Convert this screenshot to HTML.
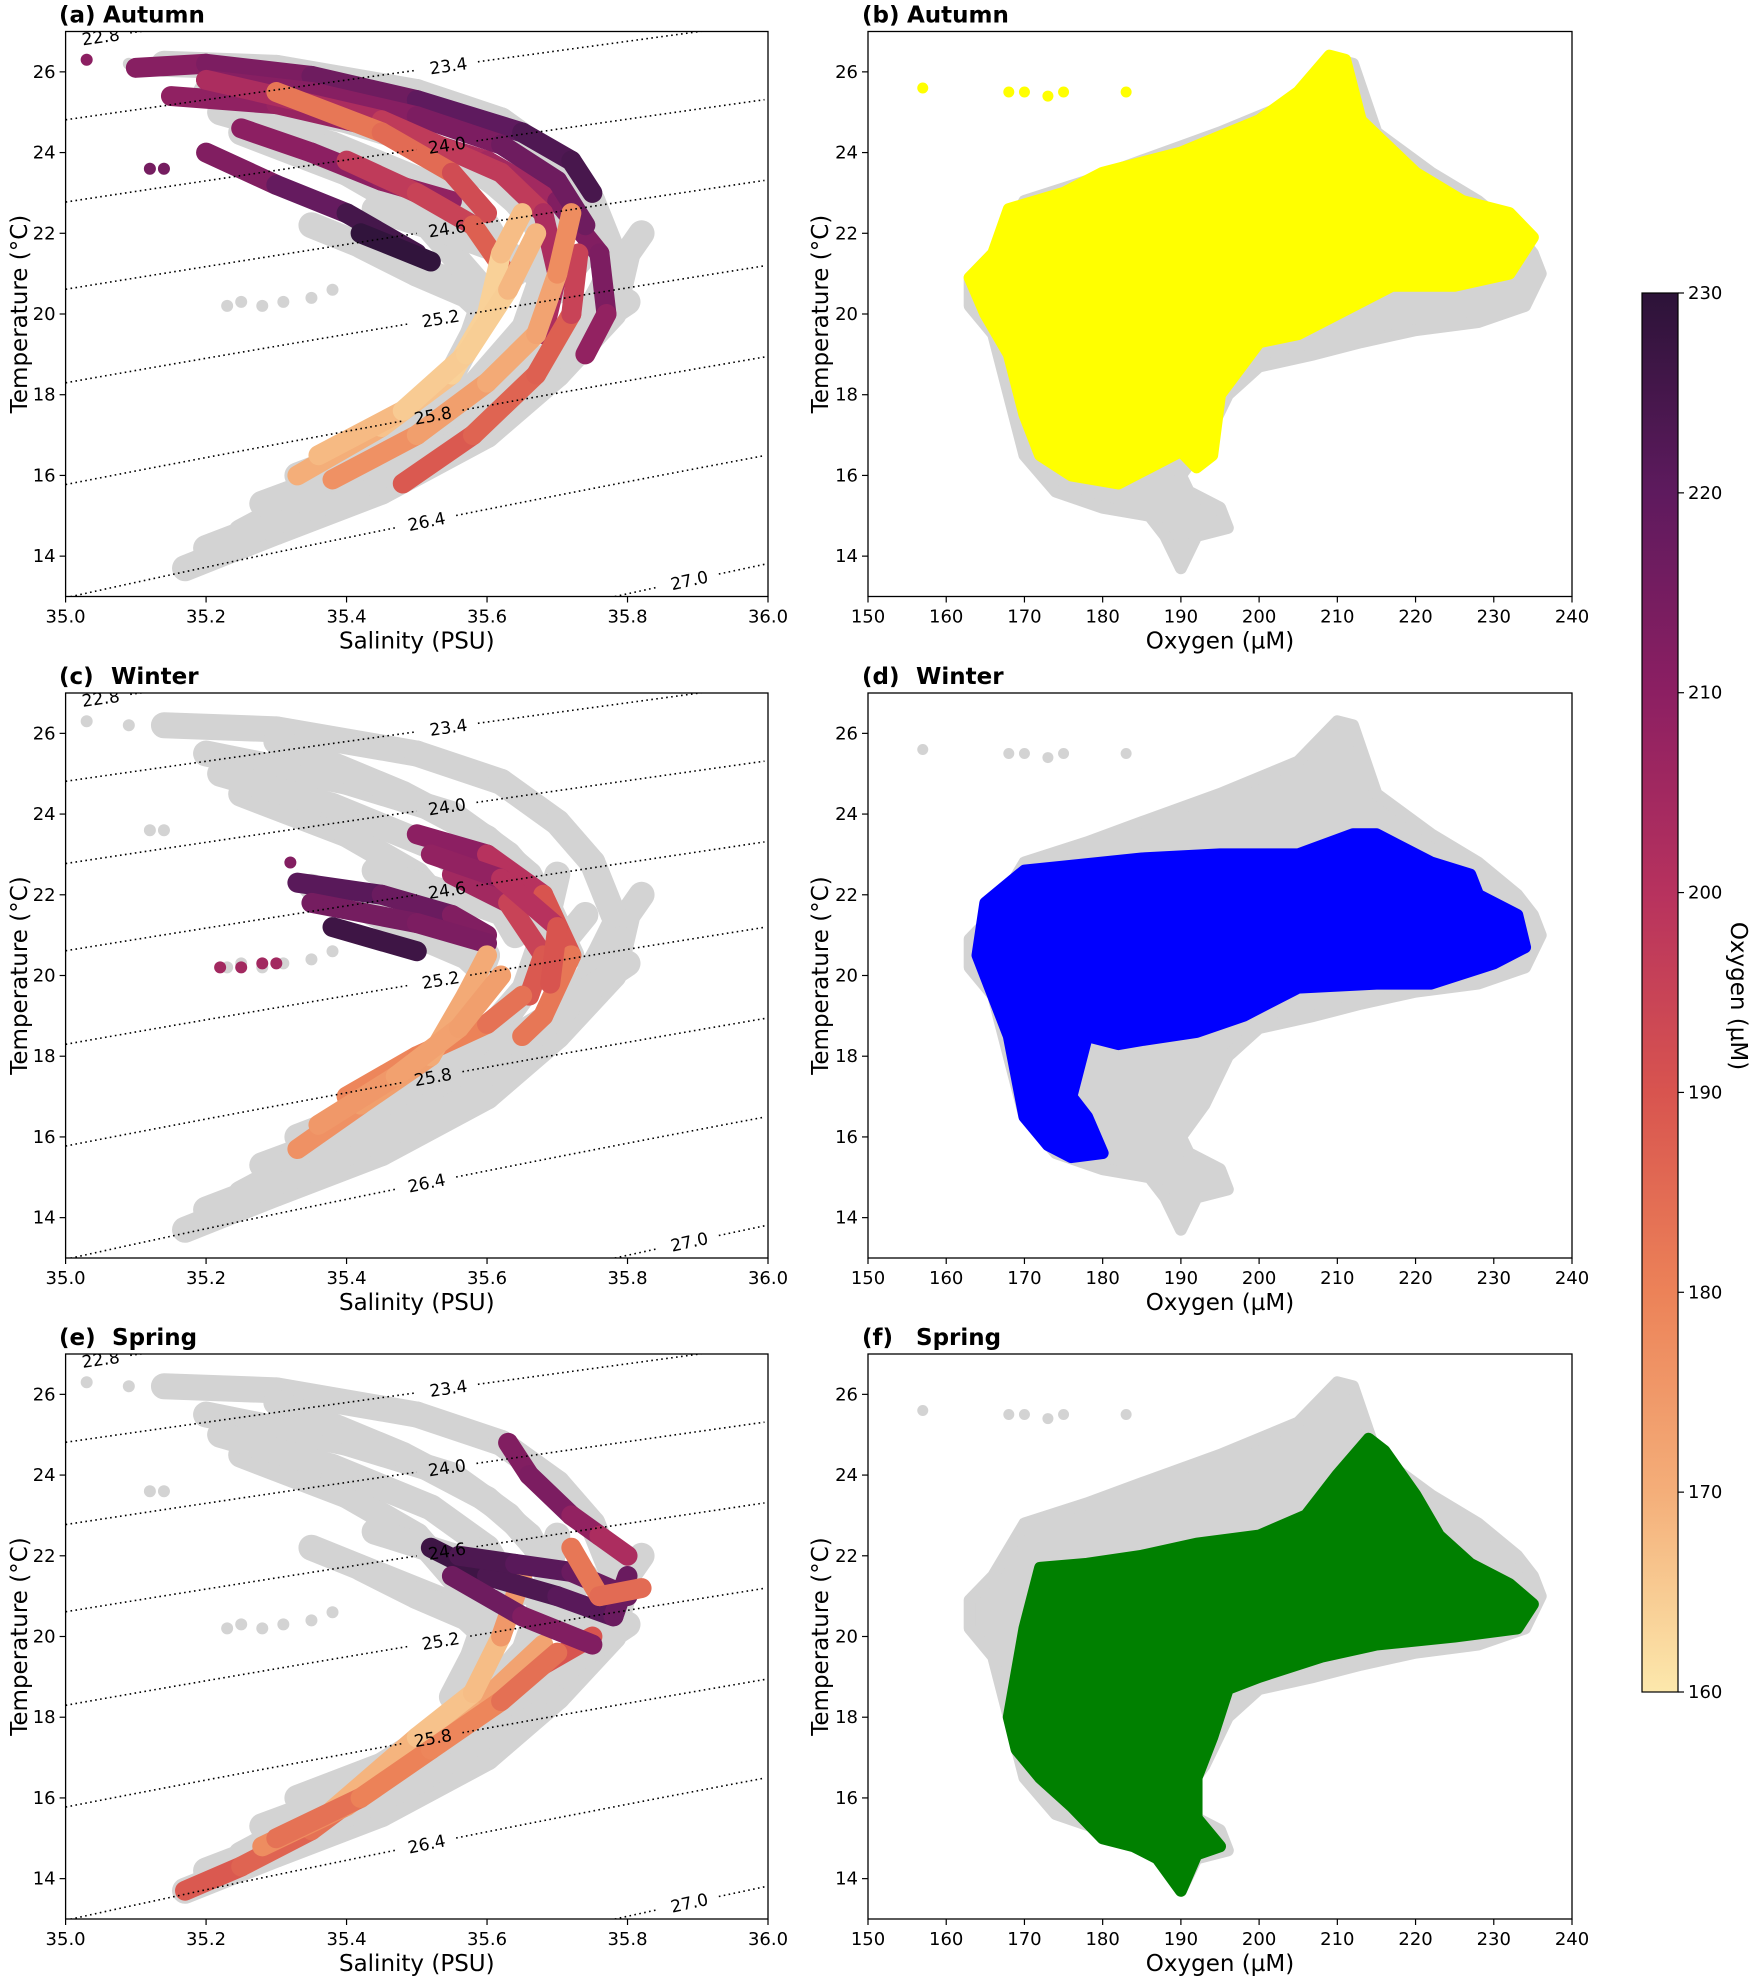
<!DOCTYPE html>
<html><head><meta charset="utf-8"><title>T-S and T-O diagrams</title>
<style>html,body{margin:0;padding:0;background:#fff}svg{display:block}text{font-family:"DejaVu Sans","Liberation Sans",sans-serif;fill:#000}</style>
</head><body>
<svg id="fig" xmlns="http://www.w3.org/2000/svg" width="1753" height="1979" viewBox="0 0 1753 1979">
<defs>
<linearGradient id="magma" x1="0" y1="1" x2="0" y2="0">
<stop offset="0" stop-color="#fce8ac"/><stop offset="0.143" stop-color="#f4ae79"/><stop offset="0.286" stop-color="#ec8258"/><stop offset="0.429" stop-color="#d8544f"/><stop offset="0.571" stop-color="#b7325e"/><stop offset="0.714" stop-color="#8c1f62"/><stop offset="0.857" stop-color="#5e1a5e"/><stop offset="1" stop-color="#2c1338"/>
</linearGradient>
</defs>
</svg>
<script>
// ---- data ----
const salTicks=[35.0,35.2,35.4,35.6,35.8,36.0];
const tempTicks=[14,16,18,20,22,24,26];
const oxyTicks=[150,160,170,180,190,200,210,220,230,240];
const cbTicks=[160,170,180,190,200,210,220,230];
const sigmaLevels=[22.8,23.4,24.0,24.6,25.2,25.8,26.4,27.0];
const sigmaLabelS=[35.05,35.545,35.543,35.543,35.534,35.523,35.514,35.888];
// grey T-S tracks (all data) [S,T]
const greyTS=[
 [[35.17,13.7],[35.3,14.6],[35.45,15.6],[35.6,17],[35.7,18.5],[35.78,20],[35.8,21.5],[35.82,22]],
 [[35.25,14.6],[35.38,15.8],[35.5,17],[35.6,18.3],[35.65,19.5],[35.68,21],[35.7,22.5]],
 [[35.2,14.2],[35.35,15.2],[35.5,16.4],[35.62,17.8],[35.72,19.3],[35.76,20.5],[35.78,21.2]],
 [[35.28,15.3],[35.42,16.2],[35.55,17.5],[35.68,18.9],[35.8,20.3]],
 [[35.33,16.0],[35.45,16.8],[35.58,18.2],[35.66,19.8],[35.74,21.5]],
 [[35.14,26.2],[35.3,26.1],[35.5,25.5],[35.62,24.8],[35.7,23.8],[35.75,22.8],[35.78,21.5]],
 [[35.2,25.5],[35.4,24.8],[35.55,24],[35.63,23],[35.68,22],[35.72,20.5]],
 [[35.25,24.5],[35.4,23.5],[35.5,22.5],[35.55,21.5],[35.6,20.5],[35.58,19.5],[35.55,18.5]],
 [[35.3,25.8],[35.48,24.5],[35.6,23.4],[35.66,22.5],[35.7,21.2]],
 [[35.22,25.0],[35.38,24.2],[35.52,23.2],[35.6,22.2],[35.64,21]],
 [[35.35,22.2],[35.45,21.5],[35.55,20.8],[35.6,20]],
 [[35.42,21.7],[35.5,21],[35.58,20.4]],
 [[35.44,22.6],[35.55,22],[35.63,21.5],[35.7,20.6]]
];
const greyDotsTS=[[35.03,26.3],[35.09,26.2],[35.12,23.6],[35.14,23.6],[35.23,20.2],[35.25,20.3],[35.28,20.2],[35.31,20.3],[35.35,20.4],[35.38,20.6]];
// coloured tracks [S,T,O]
const autumnTS=[
 [[35.1,26.1,210],[35.2,26.2,212],[35.35,25.9,215],[35.5,25.3,218],[35.65,24.5,222],[35.72,23.8,224],[35.75,23,225]],
 [[35.15,25.4,208],[35.3,25.2,210],[35.45,24.6,205],[35.6,23.8,200],[35.7,22.8,210],[35.76,21.5,215],[35.77,20,212],[35.74,19,205]],
 [[35.2,25.8,212],[35.35,25.5,210],[35.5,24.9,212],[35.62,24.2,215],[35.7,23.3,218],[35.74,22.2,215]],
 [[35.2,24,210],[35.3,23.2,215],[35.4,22.5,222],[35.5,21.5,228]],
 [[35.25,24.6,212],[35.35,24.0,208],[35.45,23.3,212],[35.55,22.8,205]],
 [[35.42,22,228],[35.52,21.3,230]],
 [[35.2,25.8,205],[35.45,24.8,200],[35.62,23.5,195],[35.68,22.5,200],[35.7,21,205],[35.68,19.5,200]],
 [[35.3,25.5,185],[35.45,24.5,180],[35.55,23.5,190],[35.6,22.5,195]],
 [[35.4,23.8,195],[35.5,23.0,200],[35.58,22.2,190],[35.62,21.2,185]],
 [[35.48,15.8,190],[35.58,17,188],[35.67,18.5,185],[35.72,20,190],[35.73,21.5,200]],
 [[35.38,15.9,178],[35.5,17,175],[35.6,18.3,172],[35.67,19.5,170],[35.7,21,175],[35.72,22.5,180]],
 [[35.33,16,172],[35.45,17.2,168],[35.55,18.5,165],[35.6,20,163],[35.62,21.5,165],[35.65,22.5,170]],
 [[35.36,16.5,170],[35.48,17.6,166],[35.57,19.0,164],[35.63,20.6,165],[35.67,22.0,172]]
];
const autumnDots=[[35.03,26.3,210],[35.12,23.6,215],[35.14,23.6,215]];
const winterTS=[
 [[35.5,23.5,215],[35.6,23,205],[35.68,22,195],[35.72,20.5,185],[35.68,19,180],[35.65,18.5,185]],
 [[35.55,22.5,210],[35.63,21.8,200],[35.68,20.5,190],[35.66,19.5,188]],
 [[35.52,23.0,212],[35.62,22.4,205],[35.7,21.2,195],[35.69,19.8,185]],
 [[35.33,22.3,222],[35.45,22,220],[35.55,21.5,215],[35.6,21,210]],
 [[35.35,21.8,215],[35.5,21.3,215],[35.6,20.8,212]],
 [[35.38,21.2,228],[35.5,20.6,225]],
 [[35.4,17,180],[35.5,18,178],[35.6,18.8,182],[35.65,19.5,185]],
 [[35.33,15.7,178],[35.42,16.8,175],[35.52,18,172],[35.57,19.5,170],[35.6,20.5,172]],
 [[35.36,16.3,176],[35.47,17.5,174],[35.56,18.7,172],[35.62,20,175]]
];
const winterDots=[[35.22,20.2,205],[35.25,20.2,205],[35.28,20.3,205],[35.3,20.3,205],[35.32,22.8,212]];
const springTS=[
 [[35.17,13.7,190],[35.25,14.3,188],[35.35,15.2,185],[35.45,16.5,182],[35.55,17.8,180],[35.65,19,185],[35.75,20,195]],
 [[35.28,14.8,180],[35.4,15.8,175],[35.5,17,172],[35.6,18.5,170],[35.68,19.8,175]],
 [[35.38,15.7,170],[35.5,17.5,168],[35.58,18.6,165],[35.62,20,170],[35.65,21.5,180]],
 [[35.3,15.0,185],[35.42,16.0,182],[35.52,17.2,178],[35.62,18.4,180],[35.7,19.6,188]],
 [[35.63,24.8,210],[35.66,24,215],[35.72,23,212],[35.76,22.5,205],[35.8,22,200]],
 [[35.52,22.2,228],[35.6,21.5,225],[35.7,21,222],[35.78,20.5,220],[35.8,21.5,215]],
 [[35.55,21.5,218],[35.65,20.5,215],[35.75,19.8,210]],
 [[35.56,22.0,225],[35.64,21.8,222],[35.72,21.6,220],[35.8,21.0,215]],
 [[35.72,22.2,185],[35.76,21,180],[35.82,21.2,190]]
];
const springDots=[];
// T-O envelopes [O,T]
const greyTO=[[163,20.9],[166,21.5],[170,22.8],[178,23.3],[185,23.8],[195,24.5],[205,25.3],[210,26.3],[212,26.2],[215,24.5],[222,23.5],[228,22.8],[233,22],[235,21.5],[236,21],[234,20.2],[228,19.8],[220,19.6],[213,19.3],[207,19],[200,18.7],[196,18],[193,16.8],[190,16],[191,15.6],[195,15.2],[196,14.7],[192,14.5],[190,13.7],[188,14.5],[186,15],[180,15.2],[174,15.6],[170,16.5],[168,18],[166,19.5],[163,20.2]];
const greyDotsTO=[[157,25.6],[168,25.5],[170,25.5],[173,25.4],[175,25.5],[183,25.5]];
const autumnTO=[[163,20.9],[166,21.5],[168,22.6],[175,23],[180,23.5],[190,24],[200,24.8],[205,25.5],[209,26.4],[211,26.3],[213,24.8],[220,23.5],[226,22.8],[232,22.5],[235,21.9],[232,21],[225,20.7],[217,20.7],[210,20],[205,19.5],[200,19.3],[195,18],[194,16.5],[192,16.2],[190,16.6],[186,16.2],[182,15.8],[176,16],[172,16.5],[170,17.5],[168,19],[165,20]];
const autumnDotsTO=[[157,25.6],[168,25.5],[170,25.5],[173,25.4],[175,25.5],[183,25.5]];
const winterTO=[[165,21.8],[170,22.6],[175,22.7],[185,22.9],[195,23],[205,23],[212,23.5],[215,23.5],[222,22.8],[227,22.5],[228,22],[233,21.5],[234,20.7],[230,20.3],[222,19.8],[215,19.8],[205,19.7],[198,19],[192,18.6],[185,18.4],[182,18.3],[178,18.5],[176,17],[178,16.5],[180,15.6],[176,15.5],[173,15.8],[170,16.5],[169,17.5],[168,18.5],[166,19.5],[164,20.5]];
const springTO=[[168,18],[170,20.2],[172,21.7],[178,21.8],[185,22],[192,22.3],[200,22.5],[206,23],[210,24],[214,24.9],[216,24.6],[220,23.5],[223,22.5],[227,21.8],[232,21.3],[235,20.8],[233,20.2],[225,20],[215,19.8],[208,19.5],[200,19],[196,18.7],[194,17.5],[192,16.5],[192,15.5],[195,14.8],[192,14.6],[190,13.7],[187,14.5],[184,14.8],[180,15],[176,15.8],[172,16.5],[169,17.2]];

// ---- layout ----
const NS='http://www.w3.org/2000/svg';
const svg=document.getElementById('fig');
const LX0=65.6,LX1=768,RX0=868,RX1=1572;
const ROWS=[31.5,693,1354],PH=565;
const SMIN=35,SMAX=36,TMIN=13,TMAX=27,OMIN=150,OMAX=240;
const cmapStops=[[160,[252,232,172]],[170,[244,174,121]],[180,[236,130,88]],[190,[216,84,79]],[200,[183,50,94]],[210,[140,31,98]],[220,[94,26,94]],[230,[44,19,56]]];
function cmap(o){o=Math.max(160,Math.min(230,o));for(let i=0;i<cmapStops.length-1;i++){const a=cmapStops[i],b=cmapStops[i+1];if(o<=b[0]){const t=(o-a[0])/(b[0]-a[0]);const c=a[1].map((v,k)=>Math.round(v+(b[1][k]-v)*t));return 'rgb('+c.join(',')+')';}}return 'rgb(44,19,56)';}
function mk(tag,parent){const e=document.createElementNS(NS,tag);(parent||svg).appendChild(e);return e;}
function sx(s){return LX0+(s-SMIN)/(SMAX-SMIN)*(LX1-LX0);}
function ox(o){return RX0+(o-OMIN)/(OMAX-OMIN)*(RX1-RX0);}
function ty(t,top){return top+(TMAX-t)/(TMAX-TMIN)*PH;}
function rho(S,T){const rw=999.842594+6.793952e-2*T-9.095290e-3*T*T+1.001685e-4*T**3-1.120083e-6*T**4+6.536332e-9*T**5;const A=8.24493e-1-4.0899e-3*T+7.6438e-5*T*T-8.2467e-7*T**3+5.3875e-9*T**4;const B=-5.72466e-3+1.0227e-4*T-1.6546e-6*T*T;return rw+A*S+B*Math.pow(S,1.5)+4.8314e-4*S*S;}
function tOfSigma(sig,S){let lo=-5,hi=40;for(let i=0;i<50;i++){const m=(lo+hi)/2;if(rho(S,m)-1000>sig)lo=m;else hi=m;}return (lo+hi)/2;}

function drawTracks(g,tracks,top,w,fixed){
 tracks.forEach(tr=>{for(let i=0;i<tr.length-1;i++){const a=tr[i],b=tr[i+1];const l=mk('line',g);
  
  
  l.setAttribute('x1',sx(a[0]));l.setAttribute('y1',ty(a[1],top));l.setAttribute('x2',sx(b[0]));l.setAttribute('y2',ty(b[1],top));
  l.setAttribute('stroke',fixed||cmap((a[2]+b[2])/2));l.setAttribute('stroke-width',w);l.setAttribute('stroke-linecap','round');}});
}
function drawDotsTS(g,dots,top,r,fixed){dots.forEach(d=>{const c=mk('circle',g);
 
 
 c.setAttribute('cx',sx(d[0]));c.setAttribute('cy',ty(d[1],top));c.setAttribute('r',r);c.setAttribute('fill',fixed||cmap(d[2]));});}
function drawPoly(g,pts,top,color,name){const p=mk('polygon',g);
 
 
 p.setAttribute('points',pts.map(q=>ox(q[0])+','+ty(q[1],top)).join(' '));p.setAttribute('fill',color);p.setAttribute('stroke',color);p.setAttribute('stroke-width',12);p.setAttribute('stroke-linejoin','round');}
function drawDotsTO(g,dots,top,color){dots.forEach(d=>{const c=mk('circle',g);
 
 
 c.setAttribute('cx',ox(d[0]));c.setAttribute('cy',ty(d[1],top));c.setAttribute('r',5.5);c.setAttribute('fill',color);});}
function txt(parent,x,y,s,size,anchor,weight,transform){const t=mk('text',parent);t.setAttribute('x',x);t.setAttribute('y',y);t.setAttribute('font-size',size);t.setAttribute('text-anchor',anchor||'start');if(weight)t.setAttribute('font-weight',weight);if(transform)t.setAttribute('transform',transform);t.textContent=s;return t;}

function frame(g,x0,x1,top,xt,xfun,xlabel,ylabelX){
 const r=mk('rect',g);
 
 
 r.setAttribute('x',x0);r.setAttribute('y',top);r.setAttribute('width',x1-x0);r.setAttribute('height',PH);r.setAttribute('fill','none');r.setAttribute('stroke','#000');r.setAttribute('stroke-width',1.3);
 xt.forEach(v=>{const x=xfun(v);const l=mk('line',g);
  
  
  l.setAttribute('x1',x);l.setAttribute('x2',x);l.setAttribute('y1',top+PH);l.setAttribute('y2',top+PH+6);l.setAttribute('stroke','#000');l.setAttribute('stroke-width',1.2);
  const t=txt(g,x,top+PH+26,xlabel==='Salinity (PSU)'?v.toFixed(1):String(v),18,'middle');
  
  });
 tempTicks.forEach(v=>{const y=ty(v,top);const l=mk('line',g);
  
  
  l.setAttribute('x1',x0-6);l.setAttribute('x2',x0);l.setAttribute('y1',y);l.setAttribute('y2',y);l.setAttribute('stroke','#000');l.setAttribute('stroke-width',1.2);
  const t=txt(g,x0-10,y+6,String(v),18,'end');
  
  });
 const xl=txt(g,(x0+x1)/2,top+PH+52,xlabel,23,'middle');
 
 
 const yl=txt(g,0,0,'Temperature (°C)',23,'middle',null,'translate('+ylabelX+','+(top+PH/2)+') rotate(-90)');
 
 
}

function sigmaLines(g,top){
 sigmaLevels.forEach((lev,i)=>{const ls=sigmaLabelS[i],half=0.042;
  const segs=[[SMIN,ls-half],[ls+half,SMAX]];
  segs.forEach(sg=>{if(sg[1]<=sg[0])return;const pts=[];for(let s=sg[0];s<=sg[1]+1e-9;s+=0.01)pts.push(sx(s)+','+ty(tOfSigma(lev,s),top));
   const p=mk('polyline',g);
   
   
   p.setAttribute('points',pts.join(' '));p.setAttribute('fill','none');p.setAttribute('stroke','#000');p.setAttribute('stroke-width',1.6);p.setAttribute('stroke-dasharray','1.6 3.4');});
  const x=sx(ls),y=ty(tOfSigma(lev,ls),top);
  const ang=Math.atan2(ty(tOfSigma(lev,ls+0.05),top)-ty(tOfSigma(lev,ls-0.05),top),sx(ls+0.05)-sx(ls-0.05))*180/Math.PI;
  const t=txt(g,0,6,lev.toFixed(1),17,'middle',null,'translate('+x+','+y+') rotate('+ang+')');
  
  });
}

const seasons=[['a','Autumn',autumnTS,autumnDots,autumnTO,autumnDotsTO,'#ffff00','b',103,907],['c','Winter',winterTS,winterDots,winterTO,[],'#0000ff','d',111,916],['e','Spring',springTS,springDots,springTO,[],'#008000','f',112,916]];
seasons.forEach((s,ri)=>{
 const top=ROWS[ri];
 const gl=mk('g');
 
 
 const cp=mk('clipPath',gl);cp.setAttribute('id','clipL'+ri);const cr=mk('rect',cp);cr.setAttribute('x',LX0);cr.setAttribute('y',top);cr.setAttribute('width',LX1-LX0);cr.setAttribute('height',PH);
 const inner=mk('g',gl);inner.setAttribute('clip-path','url(#clipL'+ri+')');
 
 
 drawTracks(inner,greyTS,top,26,'#d3d3d3');
 drawDotsTS(inner,greyDotsTS,top,6,'#d3d3d3');
 drawTracks(inner,s[2],top,20,null);
 drawDotsTS(inner,s[3],top,6,null);
 sigmaLines(inner,top);
 frame(gl,LX0,LX1,top,salTicks,sx,'Salinity (PSU)',27);
 const t1=txt(gl,59,top-9,'('+s[0]+')',23,'start','bold');
 
 
 const t2=txt(gl,s[8],top-9,s[1],23,'start','bold');
 
 
 const gr=mk('g');
 
 
 const cp2=mk('clipPath',gr);cp2.setAttribute('id','clipR'+ri);const cr2=mk('rect',cp2);cr2.setAttribute('x',RX0);cr2.setAttribute('y',top);cr2.setAttribute('width',RX1-RX0);cr2.setAttribute('height',PH);
 const in2=mk('g',gr);in2.setAttribute('clip-path','url(#clipR'+ri+')');
 
 
 drawPoly(in2,greyTO,top,'#d3d3d3','all-data-envelope');
 if(ri>0){drawDotsTO(in2,greyDotsTO,top,'#d3d3d3');}
 drawPoly(in2,s[4],top,s[6],'season-envelope');
 drawDotsTO(in2,s[5],top,s[6]);
 frame(gr,RX0,RX1,top,oxyTicks,ox,'Oxygen (µM)',828);
 const t3=txt(gr,862,top-9,'('+s[7]+')',23,'start','bold');
 
 
 const t4=txt(gr,s[9],top-9,s[1],23,'start','bold');
 
 
});

const cb=mk('g');


const CB0=293,CB1=1692;
const cbr=mk('rect',cb);


cbr.setAttribute('x',1642);cbr.setAttribute('y',CB0);cbr.setAttribute('width',36);cbr.setAttribute('height',CB1-CB0);cbr.setAttribute('fill','url(#magma)');cbr.setAttribute('stroke','#000');cbr.setAttribute('stroke-width',1.2);
cbTicks.forEach(v=>{const y=CB1-(v-160)/70*(CB1-CB0);const l=mk('line',cb);
 
 
 l.setAttribute('x1',1678);l.setAttribute('x2',1684);l.setAttribute('y1',y);l.setAttribute('y2',y);l.setAttribute('stroke','#000');l.setAttribute('stroke-width',1.2);
 const t=txt(cb,1688,y+6,String(v),18,'start');
 
 });
const cbl=txt(cb,0,0,'Oxygen (µM)',23,'middle',null,'translate(1731,996) rotate(90)');


</script>
</body></html>
